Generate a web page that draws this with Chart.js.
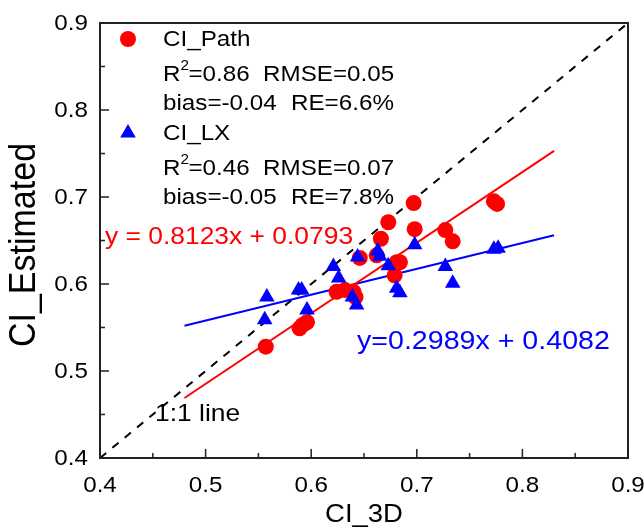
<!DOCTYPE html>
<html>
<head>
<meta charset="utf-8">
<script src="https://cdn.jsdelivr.net/npm/chart.js@4.4.0/dist/chart.umd.min.js"></script>
<style>
  html, body { margin: 0; padding: 0; background: #fff; }
</style>
</head>
<body>
<canvas id="myChart" width="644" height="531"></canvas>
<script>
// CI_Path (red circles) vs CI_3D
const pathX = [0.557, 0.589, 0.592, 0.596, 0.624, 0.632, 0.640, 0.642, 0.646, 0.662, 0.666, 0.673, 0.679, 0.681, 0.684, 0.697, 0.698, 0.727, 0.734, 0.773, 0.776];
const pathY = [0.528, 0.549, 0.553, 0.556, 0.591, 0.593, 0.591, 0.585, 0.630, 0.633, 0.652, 0.671, 0.610, 0.625, 0.625, 0.693, 0.663, 0.662, 0.649, 0.695, 0.692];

// CI_LX (blue triangles) vs CI_3D
const lxX = [0.556, 0.558, 0.588, 0.591, 0.596, 0.621, 0.626, 0.639, 0.643, 0.644, 0.663, 0.665, 0.673, 0.681, 0.684, 0.698, 0.727, 0.734, 0.773, 0.777];
const lxY = [0.559, 0.585, 0.593, 0.593, 0.570, 0.620, 0.607, 0.585, 0.576, 0.631, 0.638, 0.632, 0.621, 0.595, 0.590, 0.645, 0.620, 0.601, 0.640, 0.641];

// fitted lines (end points) and the 1:1 line
const pathFitX = [0.48, 0.83];
const pathFitY = [0.469, 0.753];
const lxFitX = [0.48, 0.83];
const lxFitY = [0.552, 0.656];
const oneToOne = [0.4, 0.9];

const majorTicks = [0.4, 0.5, 0.6, 0.7, 0.8, 0.9];
const minorTicks = [0.45, 0.55, 0.65, 0.75, 0.85];

const FONT = '"Liberation Sans", Arial, sans-serif';
const SX = 1.1; // the original text is a bit wider than plain Arial

const toPts = (xs, ys) => xs.map((x, i) => ({ x: x, y: ys[i] }));

// draw text slightly stretched in x, like the original export
const txt = (ctx, s, x, y, size, color, align, base, rot) => {
    ctx.save();
    ctx.translate(x, y);
    ctx.scale(SX, 1);
    if (rot) ctx.rotate(-Math.PI / 2);
    ctx.font = size + 'px ' + FONT;
    ctx.fillStyle = color || '#000';
    ctx.textAlign = align || 'left';
    ctx.textBaseline = base || 'alphabetic';
    ctx.fillText(s, 0, 0);
    const w = ctx.measureText(s).width * SX;
    ctx.restore();
    return w;
};

const marker = (ctx, style, r, color, x, y) => {
    ctx.save();
    ctx.fillStyle = color;
    ctx.strokeStyle = color;
    Chart.helpers.drawPoint(ctx, { pointStyle: style, radius: r, borderWidth: 0 }, x, y);
    ctx.restore();
};

const frame = {
    id: 'frame',
    afterDatasetsDraw(chart) {
        const ctx = chart.ctx;
        const a = chart.chartArea;
        const xs = chart.scales.x, ys = chart.scales.y;
        ctx.save();
        ctx.strokeStyle = '#222';
        ctx.lineWidth = 2;
        ctx.strokeRect(a.left, a.top, a.right - a.left, a.bottom - a.top);
        ctx.lineWidth = 1.5;
        ctx.beginPath();
        majorTicks.forEach(v => {
            const px = xs.getPixelForValue(v), py = ys.getPixelForValue(v);
            ctx.moveTo(px, a.bottom); ctx.lineTo(px, a.bottom - 9);
            ctx.moveTo(a.left, py); ctx.lineTo(a.left + 9, py);
        });
        minorTicks.forEach(v => {
            const px = xs.getPixelForValue(v), py = ys.getPixelForValue(v);
            ctx.moveTo(px, a.bottom); ctx.lineTo(px, a.bottom - 5);
            ctx.moveTo(a.left, py); ctx.lineTo(a.left + 5, py);
        });
        ctx.stroke();
        ctx.restore();
    },
    afterDraw(chart) {
        const ctx = chart.ctx;
        const a = chart.chartArea;
        const xs = chart.scales.x, ys = chart.scales.y;

        majorTicks.forEach(v => {
            txt(ctx, v.toFixed(1), a.left - 12, ys.getPixelForValue(v) + 1, 22, '#000', 'right', 'middle');
            txt(ctx, v.toFixed(1), xs.getPixelForValue(v), a.bottom + 28, 22, '#000', 'center', 'middle');
        });
        txt(ctx, 'CI_Estimated', 25, 245, 34, '#000', 'center', 'middle', true);
        txt(ctx, 'CI_3D', (a.left + a.right) / 2, 515, 25, '#000', 'center', 'middle');

        // legend block
        marker(ctx, 'circle', 8, '#ff0000', 128, 39);
        marker(ctx, 'triangle', 9, '#0000ff', 128, 133);

        const stats = (y, r2, rmse, bias, re) => {
            let x = 163;
            x += txt(ctx, 'R', x, y, 22);
            txt(ctx, '2', x, y - 11, 14);
            x += 8;
            txt(ctx, '=' + r2, x, y, 22);
            txt(ctx, 'RMSE=' + rmse, 263, y, 22);
            txt(ctx, 'bias=' + bias, 163, y + 29, 22);
            txt(ctx, 'RE=' + re, 291, y + 29, 22);
        };
        txt(ctx, 'CI_Path', 163, 46, 22);
        stats(81, '0.86', '0.05', '-0.04', '6.6%');
        txt(ctx, 'CI_LX', 163, 140, 22);
        stats(175, '0.46', '0.07', '-0.05', '7.8%');

        txt(ctx, 'y = 0.8123x + 0.0793', 105, 244, 24, '#ff0000');
        txt(ctx, 'y=0.2989x + 0.4082', 357, 349, 26, '#0000ff');
        txt(ctx, '1:1 line', 155, 421, 24, '#000');
    }
};

new Chart(document.getElementById('myChart').getContext('2d'), {
    type: 'scatter',
    data: {
        datasets: [
            {
                label: 'CI_LX',
                data: toPts(lxX, lxY),
                pointStyle: 'triangle',
                pointRadius: 9,
                pointBorderWidth: 0,
                backgroundColor: '#0000ff',
                borderColor: '#0000ff'
            },
            {
                label: 'CI_Path',
                data: toPts(pathX, pathY),
                pointStyle: 'circle',
                pointRadius: 8,
                pointBorderWidth: 0,
                backgroundColor: '#ff0000',
                borderColor: '#ff0000'
            },
            {
                type: 'line',
                data: toPts(pathFitX, pathFitY),
                borderColor: '#ff0000',
                borderWidth: 2,
                pointRadius: 0
            },
            {
                type: 'line',
                data: toPts(lxFitX, lxFitY),
                borderColor: '#0000ff',
                borderWidth: 2,
                pointRadius: 0
            },
            {
                type: 'line',
                data: toPts(oneToOne, oneToOne),
                borderColor: '#000',
                borderWidth: 2,
                borderDash: [8, 8],
                pointRadius: 0
            }
        ]
    },
    options: {
        responsive: false,
        animation: false,
        layout: { padding: { left: 0, top: 23, right: 16, bottom: 0 } },
        plugins: { legend: { display: false }, tooltip: { enabled: false } },
        scales: {
            x: {
                type: 'linear', min: 0.4, max: 0.9,
                grid: { display: false }, border: { display: false },
                ticks: { display: false },
                afterFit: (s) => { s.height = 73; }
            },
            y: {
                type: 'linear', min: 0.4, max: 0.9,
                grid: { display: false }, border: { display: false },
                ticks: { display: false },
                afterFit: (s) => { s.width = 100; }
            }
        }
    },
    plugins: [frame]
});
</script>
</body>
</html>
